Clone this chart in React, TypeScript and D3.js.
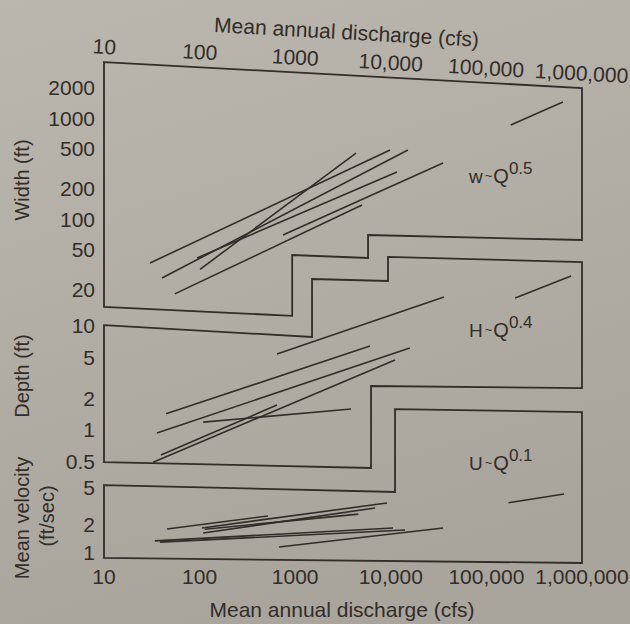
import React from "react";
import * as d3 from "d3";

// discharge axis (top and bottom)
const qTicks = [10, 100, 1000, 10000, 100000, 1000000];
const qTickLabels = ["10", "100", "1000", "10,000", "100,000", "1,000,000"];

const widthTicks = [2000, 1000, 500, 200, 100, 50, 20];
const depthTicks = [10, 5, 2, 1, 0.5];
const velocityTicks = [5, 2, 1];

// each segment: [Q1, value1, Q2, value2]
const widthLines = [
  [101, 32, 4325, 454],
  [30.3, 37, 9820, 486],
  [40.4, 26.3, 15100, 486],
  [94, 41.5, 11600, 295],
  [55, 18.3, 5000, 139],
  [745, 70, 35200, 362],
  [179600, 861, 631000, 1452],
];

const depthLines = [
  [645, 5.38, 36000, 19.0],
  [44.6, 1.43, 6060, 6.42],
  [35.8, 0.935, 15800, 6.14],
  [32.6, 0.49, 11070, 4.71],
  [39.4, 0.575, 645, 1.74],
  [109, 1.19, 3840, 1.59],
  [200000, 18.6, 768000, 30.2],
];

const velocityLines = [
  [45.6, 1.81, 519, 2.5],
  [106, 1.86, 9120, 3.45],
  [109, 1.64, 6840, 3.05],
  [113, 1.8, 4570, 2.62],
  [34, 1.35, 10550, 1.86],
  [38.5, 1.31, 14100, 1.77],
  [678, 1.16, 35200, 1.86],
  [170000, 3.47, 649000, 4.31],
];

// stepped panel outlines, [Q, value]
const widthFrame = [
  [10, 3615], [1e6, 2000], [1e6, 62.5], [5780, 70.1], [5780, 41.5],
  [930, 44.4], [930, 11.1], [10, 13.6],
];
const depthFrame = [
  [10, 10.2], [1500, 7.84], [1500, 28.3], [9350, 27.1], [9350, 46.1],
  [1e6, 41.2], [1e6, 2.53], [6210, 2.65], [6210, 0.431], [10, 0.492],
];
const velocityFrame = [
  [10, 5.38], [11070, 4.53], [11070, 35.3], [1e6, 32.8], [1e6, 0.781], [10, 0.884],
];

const ink = "#312d29";
const font = "'Liberation Sans', Arial, sans-serif";

const x = d3.scaleLog().domain([10, 1e6]).range([104, 582]);
const yWidth = d3.scaleLog().domain([2000, 20]).range([88, 290]);
const yDepth = d3.scaleLog().domain([10, 1]).range([326, 430]);
const yVel = d3.scaleLog().domain([10, 1]).range([460, 553]);

const panels = [
  { key: "w", y: yWidth, ticks: widthTicks, lines: widthLines, frame: widthFrame, label: "w", exp: "0.5", labelY: 183 },
  { key: "h", y: yDepth, ticks: depthTicks, lines: depthLines, frame: depthFrame, label: "H", exp: "0.4", labelY: 337 },
  { key: "u", y: yVel, ticks: velocityTicks, lines: velocityLines, frame: velocityFrame, label: "U", exp: "0.1", labelY: 470 },
];

export default function App() {
  return (
    <svg
      width={630}
      height={624}
      style={{ position: "absolute", left: 0, top: 0 }}
      fontFamily={font}
    >
      <defs>
        <linearGradient id="paper" x1="0" y1="0" x2="0.3" y2="1">
          <stop offset="0" stopColor="#bcb7ae" />
          <stop offset="1" stopColor="#aaa59c" />
        </linearGradient>
      </defs>
      <rect width={630} height={624} fill="url(#paper)" />

      {panels.map((p) => {
        const line = d3
          .line<number[]>()
          .x((d) => x(d[0]))
          .y((d) => p.y(d[1]));
        return (
          <g key={p.key}>
            <path d={line(p.frame) + "Z"} fill="none" stroke={ink} strokeWidth={1.8} />
            {p.lines.map((s, i) => (
              <path
                key={i}
                d={line([[s[0], s[1]], [s[2], s[3]]]) || ""}
                stroke={ink}
                strokeWidth={1.6}
                fill="none"
              />
            ))}
            {p.ticks.map((t) => (
              <text key={t} x={95} y={p.y(t)} dy="0.35em" textAnchor="end" fontSize={21} fill={ink}>
                {t}
              </text>
            ))}
            <text x={469} y={p.labelY} fontSize={19} fill={ink}>
              {p.label}
              <tspan fontSize={13} dx={2} dy={-3}>~</tspan>
              <tspan fontSize={20} dx={1} dy={3}>Q</tspan>
              <tspan fontSize={17} dy={-9}>{p.exp}</tspan>
            </text>
          </g>
        );
      })}

      {/* axis titles */}
      <text transform="translate(29,180) rotate(-90)" textAnchor="middle" fontSize={20} fill={ink}>Width (ft)</text>
      <text transform="translate(29,376) rotate(-90)" textAnchor="middle" fontSize={20} fill={ink}>Depth (ft)</text>
      <text transform="translate(29,518) rotate(-90)" textAnchor="middle" fontSize={20} fill={ink}>Mean velocity</text>
      <text transform="translate(54,516) rotate(-90)" textAnchor="middle" fontSize={20} fill={ink}>(ft/sec)</text>

      {/* top axis, photographed at a slight tilt */}
      <g transform="rotate(3.2, 345, 60)">
        {qTicks.map((t, i) => (
          <text key={t} x={x(t)} y={60} dy="0.35em" textAnchor="middle" fontSize={21} fill={ink}>
            {qTickLabels[i]}
          </text>
        ))}
        <text x={345} y={32} dy="0.35em" textAnchor="middle" fontSize={21} fill={ink}>
          Mean annual discharge (cfs)
        </text>
      </g>

      {/* bottom axis */}
      {qTicks.map((t, i) => (
        <text key={t} x={x(t)} y={577} dy="0.35em" textAnchor="middle" fontSize={21} fill={ink}>
          {qTickLabels[i]}
        </text>
      ))}
      <text x={342} y={610} dy="0.35em" textAnchor="middle" fontSize={21} fill={ink}>
        Mean annual discharge (cfs)
      </text>
    </svg>
  );
}
